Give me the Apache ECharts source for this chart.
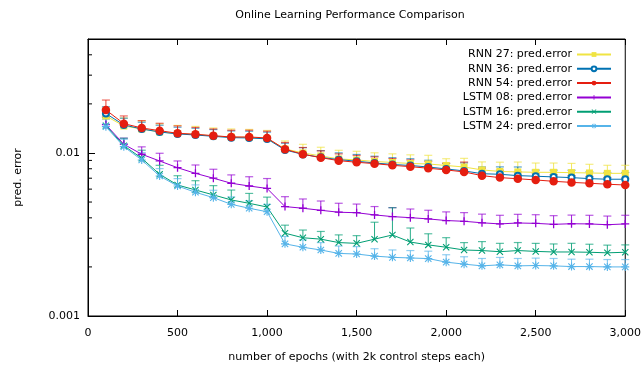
<!DOCTYPE html>
<html><head><meta charset="utf-8">
<script src="https://cdn.jsdelivr.net/npm/echarts@6/dist/echarts.min.js"></script>
<style>html,body{margin:0;padding:0;background:#fff}#c{width:644px;height:373px}</style>
</head><body><div id="c"></div>
<script>
const epochs = [100,200,300,400,500,600,700,800,900,1000,1100,1200,1300,1400,1500,1600,1700,1800,1900,2000,2100,2200,2300,2400,2500,2600,2700,2800,2900,3000];
const rnn27 = [0.01686,0.01464,0.01403,0.01345,0.01317,0.01299,0.01271,0.01253,0.01245,0.01227,0.01058,0.0100,0.00959,0.00919,0.00906,0.00887,0.00874,0.00862,0.00856,0.00838,0.0082,0.00787,0.0077,0.00765,0.00761,0.00761,0.00757,0.00754,0.0075,0.0075];
const rnn36 = [0.01745,0.01485,0.01403,0.01345,0.01308,0.01289,0.01265,0.01241,0.01236,0.0122,0.01043,0.0098,0.0094,0.0091,0.0089,0.00868,0.0085,0.00838,0.0082,0.00798,0.00776,0.00746,0.0074,0.00726,0.0072,0.00713,0.00706,0.00696,0.0069,0.0069];
const rnn54 = [0.01836,0.01513,0.01423,0.0137,0.0132,0.01303,0.01276,0.01253,0.01253,0.01236,0.01054,0.00982,0.00936,0.00897,0.00877,0.0086,0.0084,0.00824,0.00806,0.00787,0.00765,0.00726,0.00706,0.00695,0.00683,0.0067,0.0066,0.00652,0.00643,0.00636];
const lstm08 = [0.0149,0.01131,0.00982,0.00893,0.00812,0.0075,0.007,0.00652,0.00627,0.00606,0.00469,0.00458,0.00445,0.00433,0.0043,0.00417,0.00407,0.00401,0.00394,0.00385,0.00381,0.00373,0.00367,0.00372,0.0037,0.00365,0.00368,0.00367,0.00363,0.00367];
const lstm16 = [0.0147,0.01109,0.00928,0.0074,0.00636,0.00593,0.00553,0.00515,0.00491,0.00466,0.00322,0.00302,0.00296,0.00282,0.00279,0.00296,0.00314,0.00284,0.00273,0.00264,0.00254,0.00252,0.00248,0.00252,0.00249,0.00247,0.00247,0.00246,0.00244,0.00246];
const lstm24 = [0.0145,0.01093,0.00906,0.00722,0.00627,0.00574,0.00532,0.00484,0.00458,0.00436,0.00277,0.00264,0.00254,0.00242,0.0024,0.00233,0.00229,0.00227,0.00225,0.00214,0.00208,0.00203,0.00206,0.00203,0.00204,0.00203,0.00201,0.00201,0.002,0.002];
// relative upper error (fraction of value)
const err27 = [0.12,0.12,0.12,0.12,0.12,0.12,0.12,0.12,0.12,0.12,0.12,0.13,0.13,0.13,0.13,0.13,0.13,0.13,0.13,0.1,0.13,0.12,0.14,0.15,0.14,0.14,0.14,0.13,0.12,0.12];
const err36 = [0.1,0.1,0.1,0.1,0.1,0.1,0.1,0.1,0.1,0.1,0.1,0.1,0.1,0.1,0.1,0.1,0.1,0.1,0.1,0.08,0.12,0.1,0.11,0.13,0.09,0.1,0.11,0.1,0.1,0.1];
const err54 = [0.15,0.115,0.11,0.11,0.11,0.1,0.1,0.1,0.1,0.1,0.1,0.1,0.1,0.1,0.1,0.1,0.1,0.1,0.1,0.1,0.15,0.11,0.11,0.1,0.1,0.1,0.1,0.1,0.1,0.1];
const err08 = [0.12,0.09,0.11,0.115,0.1,0.125,0.135,0.125,0.14,0.15,0.15,0.14,0.14,0.135,0.13,0.125,0.135,0.13,0.13,0.13,0.13,0.13,0.13,0.13,0.13,0.13,0.13,0.13,0.13,0.13];
const err16 = [0.12,0.11,0.12,0.135,0.14,0.14,0.14,0.15,0.15,0.15,0.12,0.115,0.115,0.115,0.115,0.27,0.47,0.22,0.17,0.145,0.11,0.135,0.125,0.12,0.12,0.12,0.13,0.12,0.115,0.11];
const err24 = [0.11,0.11,0.11,0.11,0.11,0.11,0.11,0.11,0.11,0.11,0.11,0.11,0.11,0.11,0.11,0.11,0.11,0.11,0.11,0.11,0.11,0.11,0.11,0.11,0.11,0.11,0.11,0.11,0.11,0.11];
const seriesNames = ['RNN 27: pred.error','RNN 36: pred.error','RNN 54: pred.error','LSTM 08: pred.error','LSTM 16: pred.error','LSTM 24: pred.error'];
const xTicks = [0,500,1000,1500,2000,2500,3000];
const yTicks = [0.001,0.01];
const yMinorTicks = [0.002,0.003,0.004,0.005,0.006,0.007,0.008,0.009,0.02,0.03,0.04];

const FONT = 'DejaVu Sans';
const colors = ['#f0e442','#0072b2','#e51e10','#9400d3','#009e73','#56b4e9'];
const PLUS = 'path://M4.2,0H5.8V10H4.2Z M0,4.2H10V5.8H0Z';
const CROSS = 'path://M0,1.1L1.1,0L10,8.9L8.9,10Z M8.9,0L10,1.1L1.1,10L0,8.9Z';
const STAR = 'path://M4.3,0H5.7V10H4.3Z M0,4.3H10V5.7H0Z M0.5,1.5L1.5,0.5L9.5,8.5L8.5,9.5Z M8.5,0.5L9.5,1.5L1.5,9.5L0.5,8.5Z';
const symbols = [['rect',7],['emptyCircle',6],['circle',8.5],[PLUS,8],[CROSS,7],[STAR,8]];
const values = [rnn27,rnn36,rnn54,lstm08,lstm16,lstm24];
const errs = [err27,err36,err54,err08,err16,err24];

function errSeries(i){
  const c = colors[i];
  return {
    type:'custom', name:'err'+i, silent:true, animation:false,
    data: epochs.map((x,k)=>[x, values[i][k], values[i][k]*(1+errs[i][k])]),
    encode:{x:0,y:[1,2]},
    renderItem:(p,api)=>{
      const a = api.coord([api.value(0), api.value(1)]);
      const b = api.coord([api.value(0), api.value(2)]);
      return {type:'group', children:[
        {type:'line', shape:{x1:a[0],y1:a[1],x2:b[0],y2:b[1]}, style:{stroke:c,lineWidth:1,opacity:0.85}},
        {type:'line', shape:{x1:b[0]-4,y1:b[1],x2:b[0]+4,y2:b[1]}, style:{stroke:c,lineWidth:1.2,opacity:0.65}}
      ]};
    }
  };
}
function lineSeries(i){
  const c = colors[i];
  const s = symbols[i];
  return {
    type:'line', name:seriesNames[i], animation:false,
    data: epochs.map((x,k)=>[x, values[i][k]]),
    symbol:s[0], symbolSize:s[1], showAllSymbol:true,
    itemStyle: i===1 ? {color:c, borderWidth:1.2} : {color:c, borderWidth:0},
    lineStyle:{color:c, width:1},
    emphasis:{disabled:true}
  };
}
const series = [];
for (let i=0;i<6;i++){ series.push(errSeries(i)); series.push(lineSeries(i)); }
series.push({
  type:'custom', name:'minor', silent:true, animation:false, z:5,
  data: yMinorTicks.map(v=>[xTicks[0], v]),
  renderItem:(p,api)=>{
    const c = api.coord([api.value(0), api.value(1)]);
    return {type:'line', shape:{x1:c[0],y1:c[1],x2:c[0]+4,y2:c[1]}, style:{stroke:'#000',lineWidth:1}};
  }
});

const chart = echarts.init(document.getElementById('c'), null, {renderer:'canvas'});
chart.setOption({
  backgroundColor:'#fff',
  animation:false,
  title:{text:'Online Learning Performance Comparison', left:345, top:5, textAlign:'center',
    textStyle:{fontFamily:FONT, fontSize:11, fontWeight:'normal', color:'#000'}},
  legend:{
    data: seriesNames,
    orient:'vertical', right:27, top:44, align:'right',
    itemWidth:34, itemHeight:6, itemGap:3.3,
    textStyle:{fontFamily:FONT, fontSize:11, color:'#000', padding:[0,0,0,0]},
    selectedMode:false
  },
  grid:{left:88, right:17, top:39, bottom:57, show:true, borderColor:'#000', borderWidth:1, backgroundColor:'transparent'},
  xAxis:[{
    type:'value', min:xTicks[0], max:xTicks[xTicks.length-1], interval:500,
    name:'number of epochs (with 2k control steps each)', nameLocation:'middle', nameGap:36,
    nameTextStyle:{fontFamily:FONT, fontSize:11, color:'#000'},
    axisLine:{show:true, lineStyle:{color:'#000', width:1}},
    axisTick:{show:true, inside:true, length:6, lineStyle:{color:'#000'}},
    axisLabel:{fontFamily:FONT, fontSize:11, color:'#000', margin:12},
    splitLine:{show:false}
  },{
    type:'value', position:'top', min:xTicks[0], max:xTicks[xTicks.length-1], interval:500,
    axisLine:{show:true, lineStyle:{color:'#000', width:1}},
    axisTick:{show:true, inside:true, length:6, lineStyle:{color:'#000'}},
    axisLabel:{show:false}, splitLine:{show:false}
  }],
  yAxis:{
    type:'log', logBase:10, min:yTicks[0], max:0.05,
    name:'pred. error', nameLocation:'middle', nameGap:64,
    nameTextStyle:{fontFamily:FONT, fontSize:11, color:'#000'},
    axisLine:{show:true, lineStyle:{color:'#000', width:1}},
    axisTick:{show:true, inside:true, length:7, lineStyle:{color:'#000'}},
    axisLabel:{fontFamily:FONT, fontSize:11, color:'#000', margin:8, showMaxLabel:false,
      formatter:(v)=>{ for (const t of yTicks){ if (Math.abs(v-t)/t<1e-6) return String(t); } return ''; }},
    splitLine:{show:false}
  },
  series: series
});
</script></body></html>
